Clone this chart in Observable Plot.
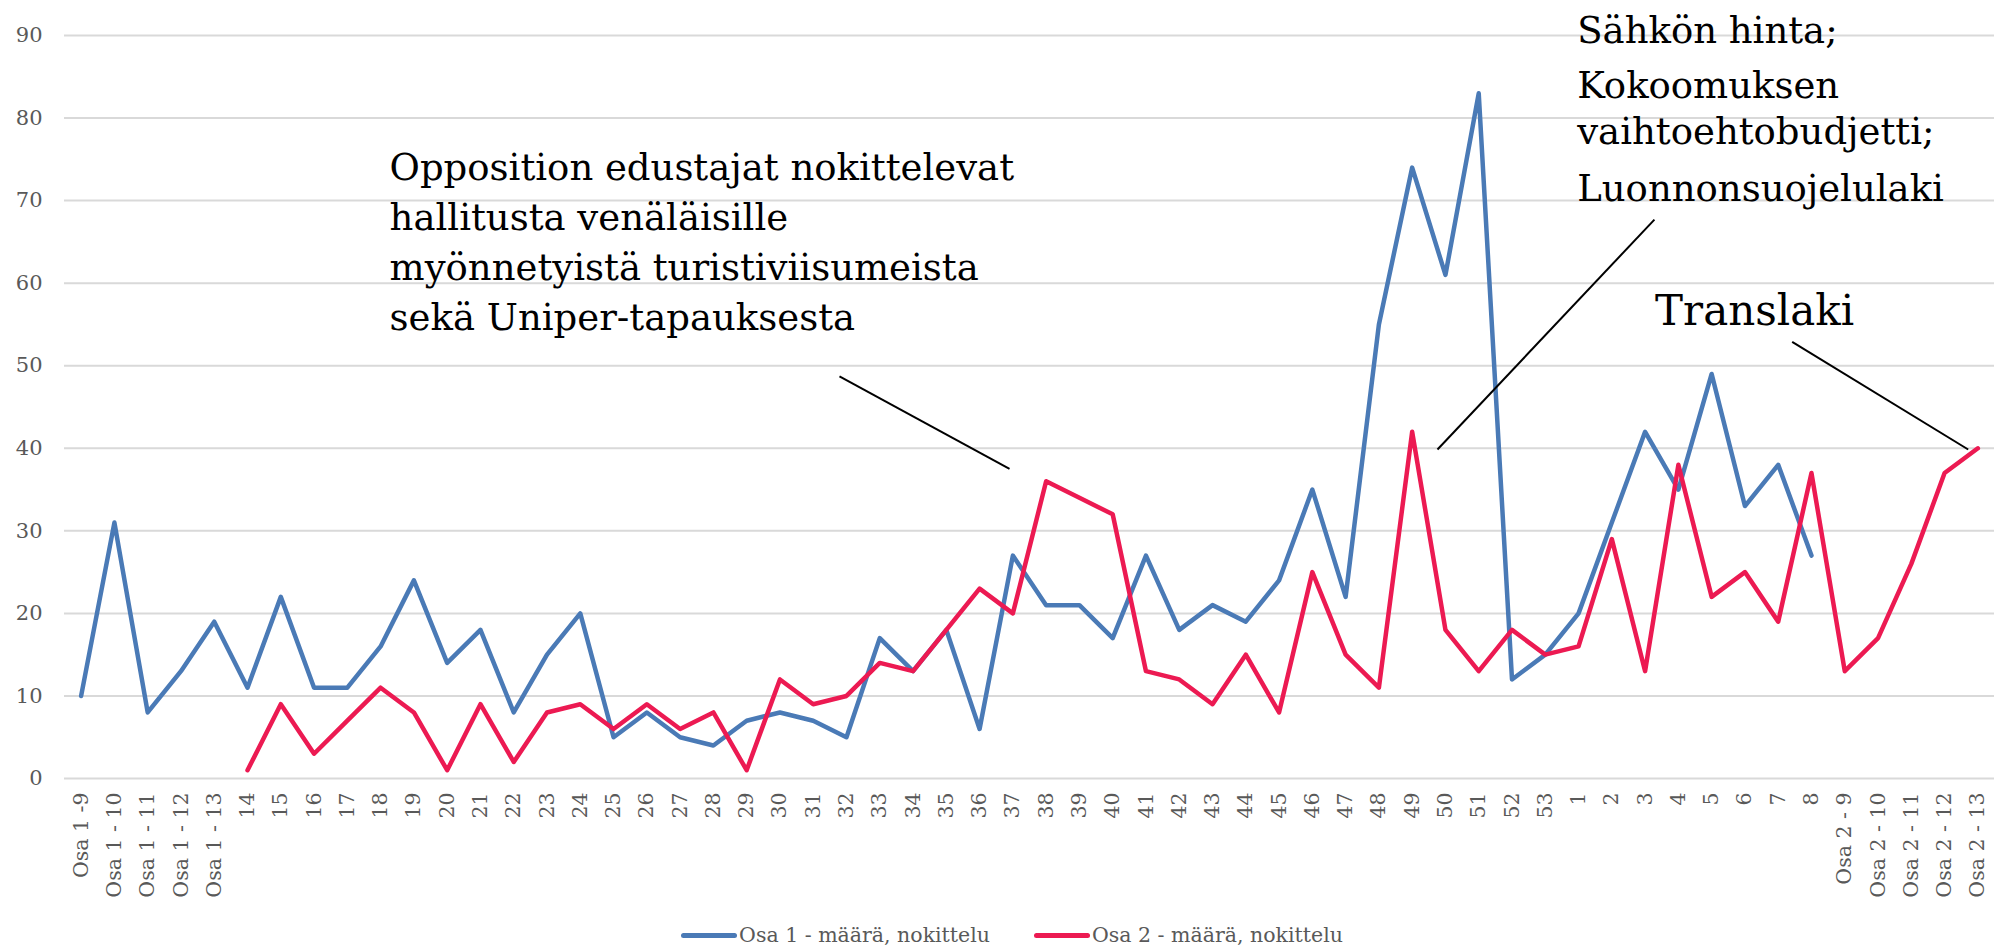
<!DOCTYPE html>
<html>
<head>
<meta charset="utf-8">
<script src="https://cdn.jsdelivr.net/npm/d3@7"></script>
<script src="https://cdn.jsdelivr.net/npm/@observablehq/plot@0.6"></script>
<style>
  html, body { margin: 0; padding: 0; background: #fff; overflow: hidden; }
  #legend { display: flex; justify-content: center; align-items: center; height: 26px; padding-left: 24px;
    font-family: "DejaVu Serif", serif; font-size: 20.5px; color: #595959; gap: 44px; }
  .item { display: flex; align-items: center; }
  .sw { width: 56px; height: 5px; border-radius: 3px; margin-right: 2px; }
</style>
</head>
<body>
<div id="chart"></div>
<div id="legend"></div>
<script>
// Categories (x axis tick labels)
const categories = [
  "Osa 1 -9", "Osa 1 - 10", "Osa 1 - 11", "Osa 1 - 12", "Osa 1 - 13",
  "14","15","16","17","18","19","20","21","22","23","24","25","26","27","28","29","30",
  "31","32","33","34","35","36","37","38","39","40","41","42","43","44","45","46","47",
  "48","49","50","51","52","53","1","2","3","4","5","6","7","8",
  "Osa 2 - 9", "Osa 2 - 10", "Osa 2 - 11", "Osa 2 - 12", "Osa 2 - 13"
];
// Series values
const osa1 = [10,31,8,13,19, 11,22,11,11,16,24,14,18,8,15,20, 5,8,5,4,7,8,7,5,
  17,13,18,6,27,21,21,17, 27,18,21,19,24,35,22, 55,74,61,83, 12,15,20,31,42,35,49,33,38,27,
  null,null,null,null,null];
const osa2 = [null,null,null,null,null, 1,9,3,7,11,8,1,9,2,8,9, 6,9,6,8,1,12,9,10,
  14,13,18,23,20,36,34,32, 13,12,9,15,8,25,15, 11,42,18,13, 18,15,16,29,13,38,22,25,19,37,
  13,17,26,37,40];
const seriesNames = ["Osa 1 - määrä, nokittelu", "Osa 2 - määrä, nokittelu"];
const seriesColors = ["#4a7ab6", "#ec1a52"];
const yTicks = [0,10,20,30,40,50,60,70,80,90];

// Annotation texts (anchored in data units: category index, value)
const annoText = [
  {text: "Opposition edustajat nokittelevat\nhallitusta venäläisille\nmyönnetyistä turistiviisumeista\nsekä Uniper-tapauksesta", i: 9.27, v: 54.3, size: 37},
  {text: "Sähkön hinta;", i: 44.96, v: 89.1, size: 37},
  {text: "Kokoomuksen", i: 44.96, v: 82.4, size: 37},
  {text: "vaihtoehtobudjetti;", i: 44.96, v: 76.8, size: 37},
  {text: "Luonnonsuojelulaki", i: 44.96, v: 70.0, size: 37},
  {text: "Translaki", i: 47.3, v: 54.9, size: 42}
];
const annoLines = [
  {i1: 22.79, v1: 48.7, i2: 27.9, v2: 37.5},
  {i1: 47.28, v1: 67.7, i2: 40.76, v2: 39.85},
  {i1: 51.42, v1: 52.9, i2: 56.71, v2: 39.85}
];

const rows = [];
categories.forEach((c, i) => {
  rows.push({i, v: osa1[i], s: seriesNames[0]});
});
categories.forEach((c, i) => {
  rows.push({i, v: osa2[i], s: seriesNames[1]});
});

const font = "DejaVu Serif";
const chart = Plot.plot({
  width: 2000,
  height: 922,
  marginLeft: 64,
  marginRight: 6,
  marginTop: 35,
  marginBottom: 144,
  style: {fontFamily: font, background: "#fff"},
  x: {type: "linear", domain: [-0.5, categories.length - 0.5]},
  y: {domain: [0, 90]},
  color: {domain: seriesNames, range: seriesColors},
  marks: [
    Plot.gridY(yTicks, {stroke: "#d9d9d9", strokeOpacity: 1, strokeWidth: 2}),
    Plot.axisY(yTicks, {tickSize: 0, tickPadding: 22, fontSize: 21, fill: "#595959", label: null, fontFamily: font}),
    Plot.axisX(d3.range(categories.length), {
      tickSize: 0, tickPadding: 14, tickRotate: -90, fontSize: 20.5, fill: "#595959", fontFamily: font,
      tickFormat: d => categories[d], label: null
    }),
    Plot.line(rows, {x: "i", y: "v", z: "s", stroke: "s", strokeWidth: 4.5,
      strokeLinejoin: "round", strokeLinecap: "round"}),
    Plot.link(annoLines, {x1: "i1", y1: "v1", x2: "i2", y2: "v2", stroke: "#000", strokeWidth: 2}),
    Plot.text(annoText.filter(d => d.size === 37), {x: "i", y: "v", text: "text", textAnchor: "start",
      lineAnchor: "bottom", lineHeight: 50 / 37, fontSize: 37, fill: "#000", fontFamily: font}),
    Plot.text(annoText.filter(d => d.size === 42), {x: "i", y: "v", text: "text", textAnchor: "start",
      lineAnchor: "bottom", fontSize: 42, fill: "#000", fontFamily: font})
  ]
});
document.getElementById("chart").appendChild(chart);

const legend = document.getElementById("legend");
seriesNames.forEach((n, k) => {
  const it = document.createElement("div");
  it.className = "item";
  const sw = document.createElement("span");
  sw.className = "sw";
  sw.style.background = seriesColors[k];
  const t = document.createElement("span");
  t.textContent = n;
  it.appendChild(sw); it.appendChild(t);
  legend.appendChild(it);
});
</script>
</body>
</html>
